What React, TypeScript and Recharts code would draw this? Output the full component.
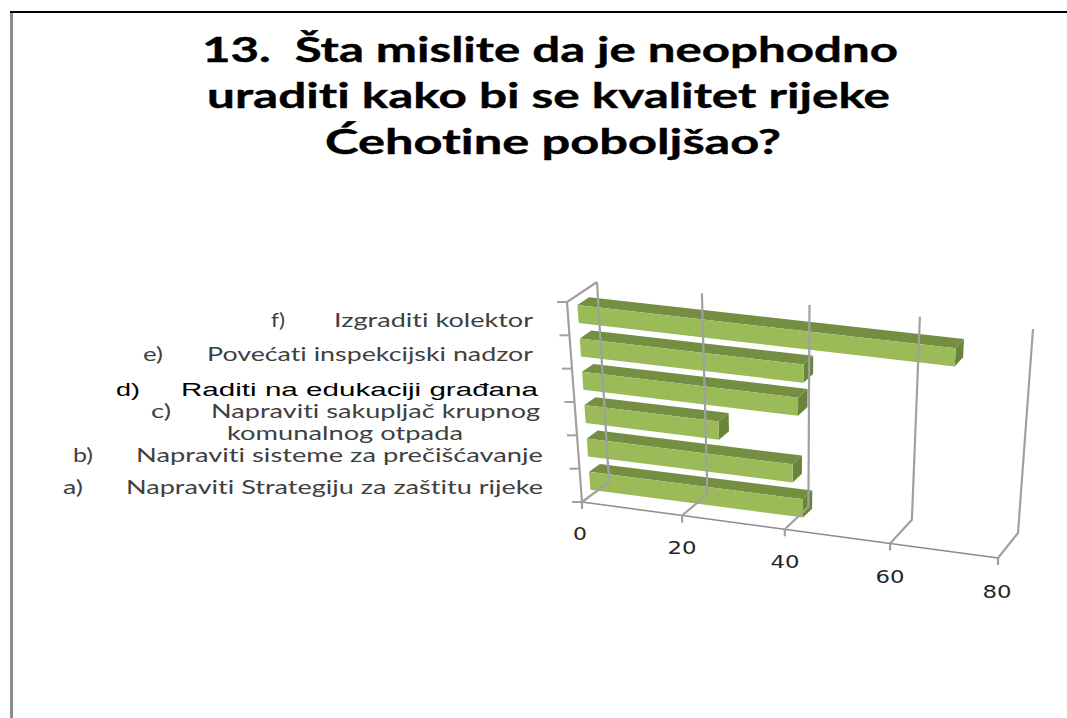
import React from "react";
import { BarChart, Bar, XAxis, YAxis } from "recharts";

const titleLines = [
  "13.  Šta mislite da je neophodno",
  "uraditi kako bi se kvalitet rijeke",
  "Ćehotine poboljšao?",
];
const categories = [
  "f) Izgraditi kolektor",
  "e) Povećati inspekcijski nadzor",
  "d) Raditi na edukaciji građana",
  "c) Napraviti sakupljač krupnog|komunalnog otpada",
  "b) Napraviti sisteme za prečišćavanje",
  "a) Napraviti Strategiju za zaštitu rijeke",
];
const values = [69, 42, 41, 26, 40, 42];
const xTicks = [0, 20, 40, 60, 80];

const data = categories.map((category, i) => ({ category, value: values[i] }));

// flat plot box handed to Recharts, then projected onto the slanted 3D frame
const W = 1067, H = 718;
const PL = 582, PR = 998, PT = 302, PB = 502;
type Pt = [number, number];
const FT0: Pt = [567, 302], FT1: Pt = [1013, 354], FB0: Pt = [582, 502], FB1: Pt = [998, 558];
const BT0: Pt = [597, 282], BT1: Pt = [1033, 329], BB0: Pt = [609, 482], BB1: Pt = [1018, 533];
const mix = (a: Pt, b: Pt, k: number): Pt => [a[0] + (b[0] - a[0]) * k, a[1] + (b[1] - a[1]) * k];
const project = (px: number, py: number, d: number): Pt => {
  const raw = (px - PL) / (PR - PL);
  const u = raw - 0.05 * raw * (1 - raw);
  const t = (py - PT) / (PB - PT);
  const front = mix(mix(FT0, FT1, u), mix(FB0, FB1, u), t);
  const back = mix(mix(BT0, BT1, u), mix(BB0, BB1, u), t);
  return mix(front, back, d);
};
const pts = (list: Pt[]) => list.map((p) => `${p[0].toFixed(1)},${p[1].toFixed(1)}`).join(" ");

const D1 = 0.33, D2 = 0.72, LIFT = 2;
const Bar3D = (props: any) => {
  const { x, y, width, height } = props;
  const lift = (p: Pt): Pt => [p[0], p[1] + LIFT];
  const P = (a: number, b: number, d: number) => lift(project(a, b, d));
  const r = x + width, b = y + height;
  return (
    <g>
      <polygon points={pts([P(x, y, D1), P(r, y, D1), P(r, y, D2), P(x, y, D2)])} fill="#758F42" />
      <polygon points={pts([P(r, y, D1), P(r, y, D2), P(r, b, D2), P(r, b, D1)])} fill="#6A853A" />
      <polygon points={pts([P(x, y, D1), P(r, y, D1), P(r, b, D1), P(x, b, D1)])} fill="#9BBB59" />
    </g>
  );
};

const GRID = "#A0A0A0";
const xLabelPos: Pt[] = [[580, 540], [682, 554], [785, 568], [890, 583], [997, 598]];
const XTick = (props: any) => {
  const { x, payload, index } = props;
  const f = project(x, PB, 0), bb = project(x, PB, 1), bt = project(x, PT, 1);
  const isSingle = String(payload.value).length === 1;
  return (
    <g>
      {index === 0 && (
        <g fill="none" stroke={GRID} strokeWidth={2.2}>
          <polyline points={pts([FB0, FT0, BT0])} />
          <polyline points={pts([project(PL, PB, 0), project(PR, PB, 0)])} stroke="#8C8C8C" strokeWidth={1.5} />
        </g>
      )}
      <polyline points={pts([f, bb, bt])} fill="none" stroke={GRID} strokeWidth={2.2} />
      <line x1={f[0]} y1={f[1]} x2={f[0]} y2={f[1] + 7} stroke={GRID} strokeWidth={2.2} />
      <text
        x={xLabelPos[index][0]}
        y={xLabelPos[index][1]}
        textAnchor="middle"
        textLength={isSingle ? 14 : 29}
        lengthAdjust="spacingAndGlyphs"
        fontFamily="DejaVu Sans"
        fontSize={17}
        fill="#262626"
      >
        {payload.value}
      </text>
    </g>
  );
};

// layout of the row labels: marker x and width, text start, text end, baseline
const rowLayout = [
  { mx: 271, mw: 14, sx: 334, ex: 533, base: 327, fill: "#404040", font: "Lato" },
  { mx: 143, mw: 20, sx: 207, ex: 533, base: 361, fill: "#404040", font: "Lato" },
  { mx: 116, mw: 24, sx: 181, ex: 538, base: 396, fill: "#000000", font: "Liberation Sans" },
  { mx: 151, mw: 20, sx: 211, ex: 540, base: 418, fill: "#404040", font: "Lato" },
  { mx: 73, mw: 20, sx: 136, ex: 543, base: 462, fill: "#404040", font: "Lato" },
  { mx: 63, mw: 20, sx: 126, ex: 543, base: 494, fill: "#404040", font: "Lato" },
];
const YTick = (props: any) => {
  const { y, payload, index } = props;
  const band = (PB - PT) / categories.length;
  const text: string = payload.value;
  const cut = text.indexOf(" ");
  const marker = text.slice(0, cut);
  const [first, second] = text.slice(cut + 1).split("|");
  const row = rowLayout[index];
  const top = project(PL, y - band / 2, 0);
  const bottom = project(PL, y + band / 2, 0);
  const common = {
    fontFamily: row.font,
    fontSize: row.font === "Lato" ? 19 : 18,
    fill: row.fill,
    lengthAdjust: "spacingAndGlyphs",
    style: { fontVariantLigatures: "none" },
  };
  return (
    <g>
      <line x1={top[0] - 10} y1={top[1]} x2={top[0]} y2={top[1]} stroke={GRID} strokeWidth={2} />
      {index === categories.length - 1 && (
        <line x1={bottom[0] - 10} y1={bottom[1]} x2={bottom[0]} y2={bottom[1]} stroke={GRID} strokeWidth={2} />
      )}
      <text x={row.mx} y={row.base} textLength={row.mw} {...common}>{marker}</text>
      <text x={row.sx} y={row.base} textLength={row.ex - row.sx} {...common}>{first}</text>
      {second && (
        <text x={227} y={row.base + 22} textLength={236} {...common}>{second}</text>
      )}
    </g>
  );
};

const titleLayout = [
  { x: 202, len: 696, base: 62 },
  { x: 207, len: 683, base: 108 },
  { x: 325, len: 456, base: 154 },
];

export default function App() {
  return (
    <div style={{ position: "absolute", left: 0, top: 0, width: W, height: H, background: "#fff", overflow: "hidden" }}>
      <div style={{ position: "absolute", left: 10, top: 11, right: 0, height: 2, background: "#000" }} />
      <div style={{ position: "absolute", left: 10, top: 13, bottom: 0, width: 3, background: "#8C8C8C" }} />
      <svg width={W} height={H} style={{ position: "absolute", left: 0, top: 0 }}>
        {titleLines.map((line, i) => (
          <text
            key={line}
            x={titleLayout[i].x}
            y={titleLayout[i].base}
            textLength={titleLayout[i].len}
            lengthAdjust="spacingAndGlyphs"
            fontFamily="Lato"
            fontWeight="bold"
            fontSize={35}
            fill="#000"
            stroke="#000"
            strokeWidth={0.4}
            xmlSpace="preserve"
            style={{ fontVariantLigatures: "none" }}
          >
            {line}
          </text>
        ))}
      </svg>
      <div style={{ position: "absolute", left: 0, top: 0 }}>
        <BarChart
          width={W}
          height={H}
          data={data}
          layout="vertical"
          barCategoryGap="23%"
          margin={{ left: PL - 10, right: W - PR, top: PT, bottom: H - PB - 10 }}
        >
          <XAxis type="number" domain={[0, 80]} ticks={xTicks} interval={0} height={10} axisLine={false} tickLine={false} zIndex={-100} tick={(p: any) => <XTick {...p} />} />
          <YAxis type="category" dataKey="category" width={10} interval={0} axisLine={false} tickLine={false} tick={(p: any) => <YTick {...p} />} />
          <Bar dataKey="value" isAnimationActive={false} shape={Bar3D} zIndex={600} />
        </BarChart>
      </div>
    </div>
  );
}
